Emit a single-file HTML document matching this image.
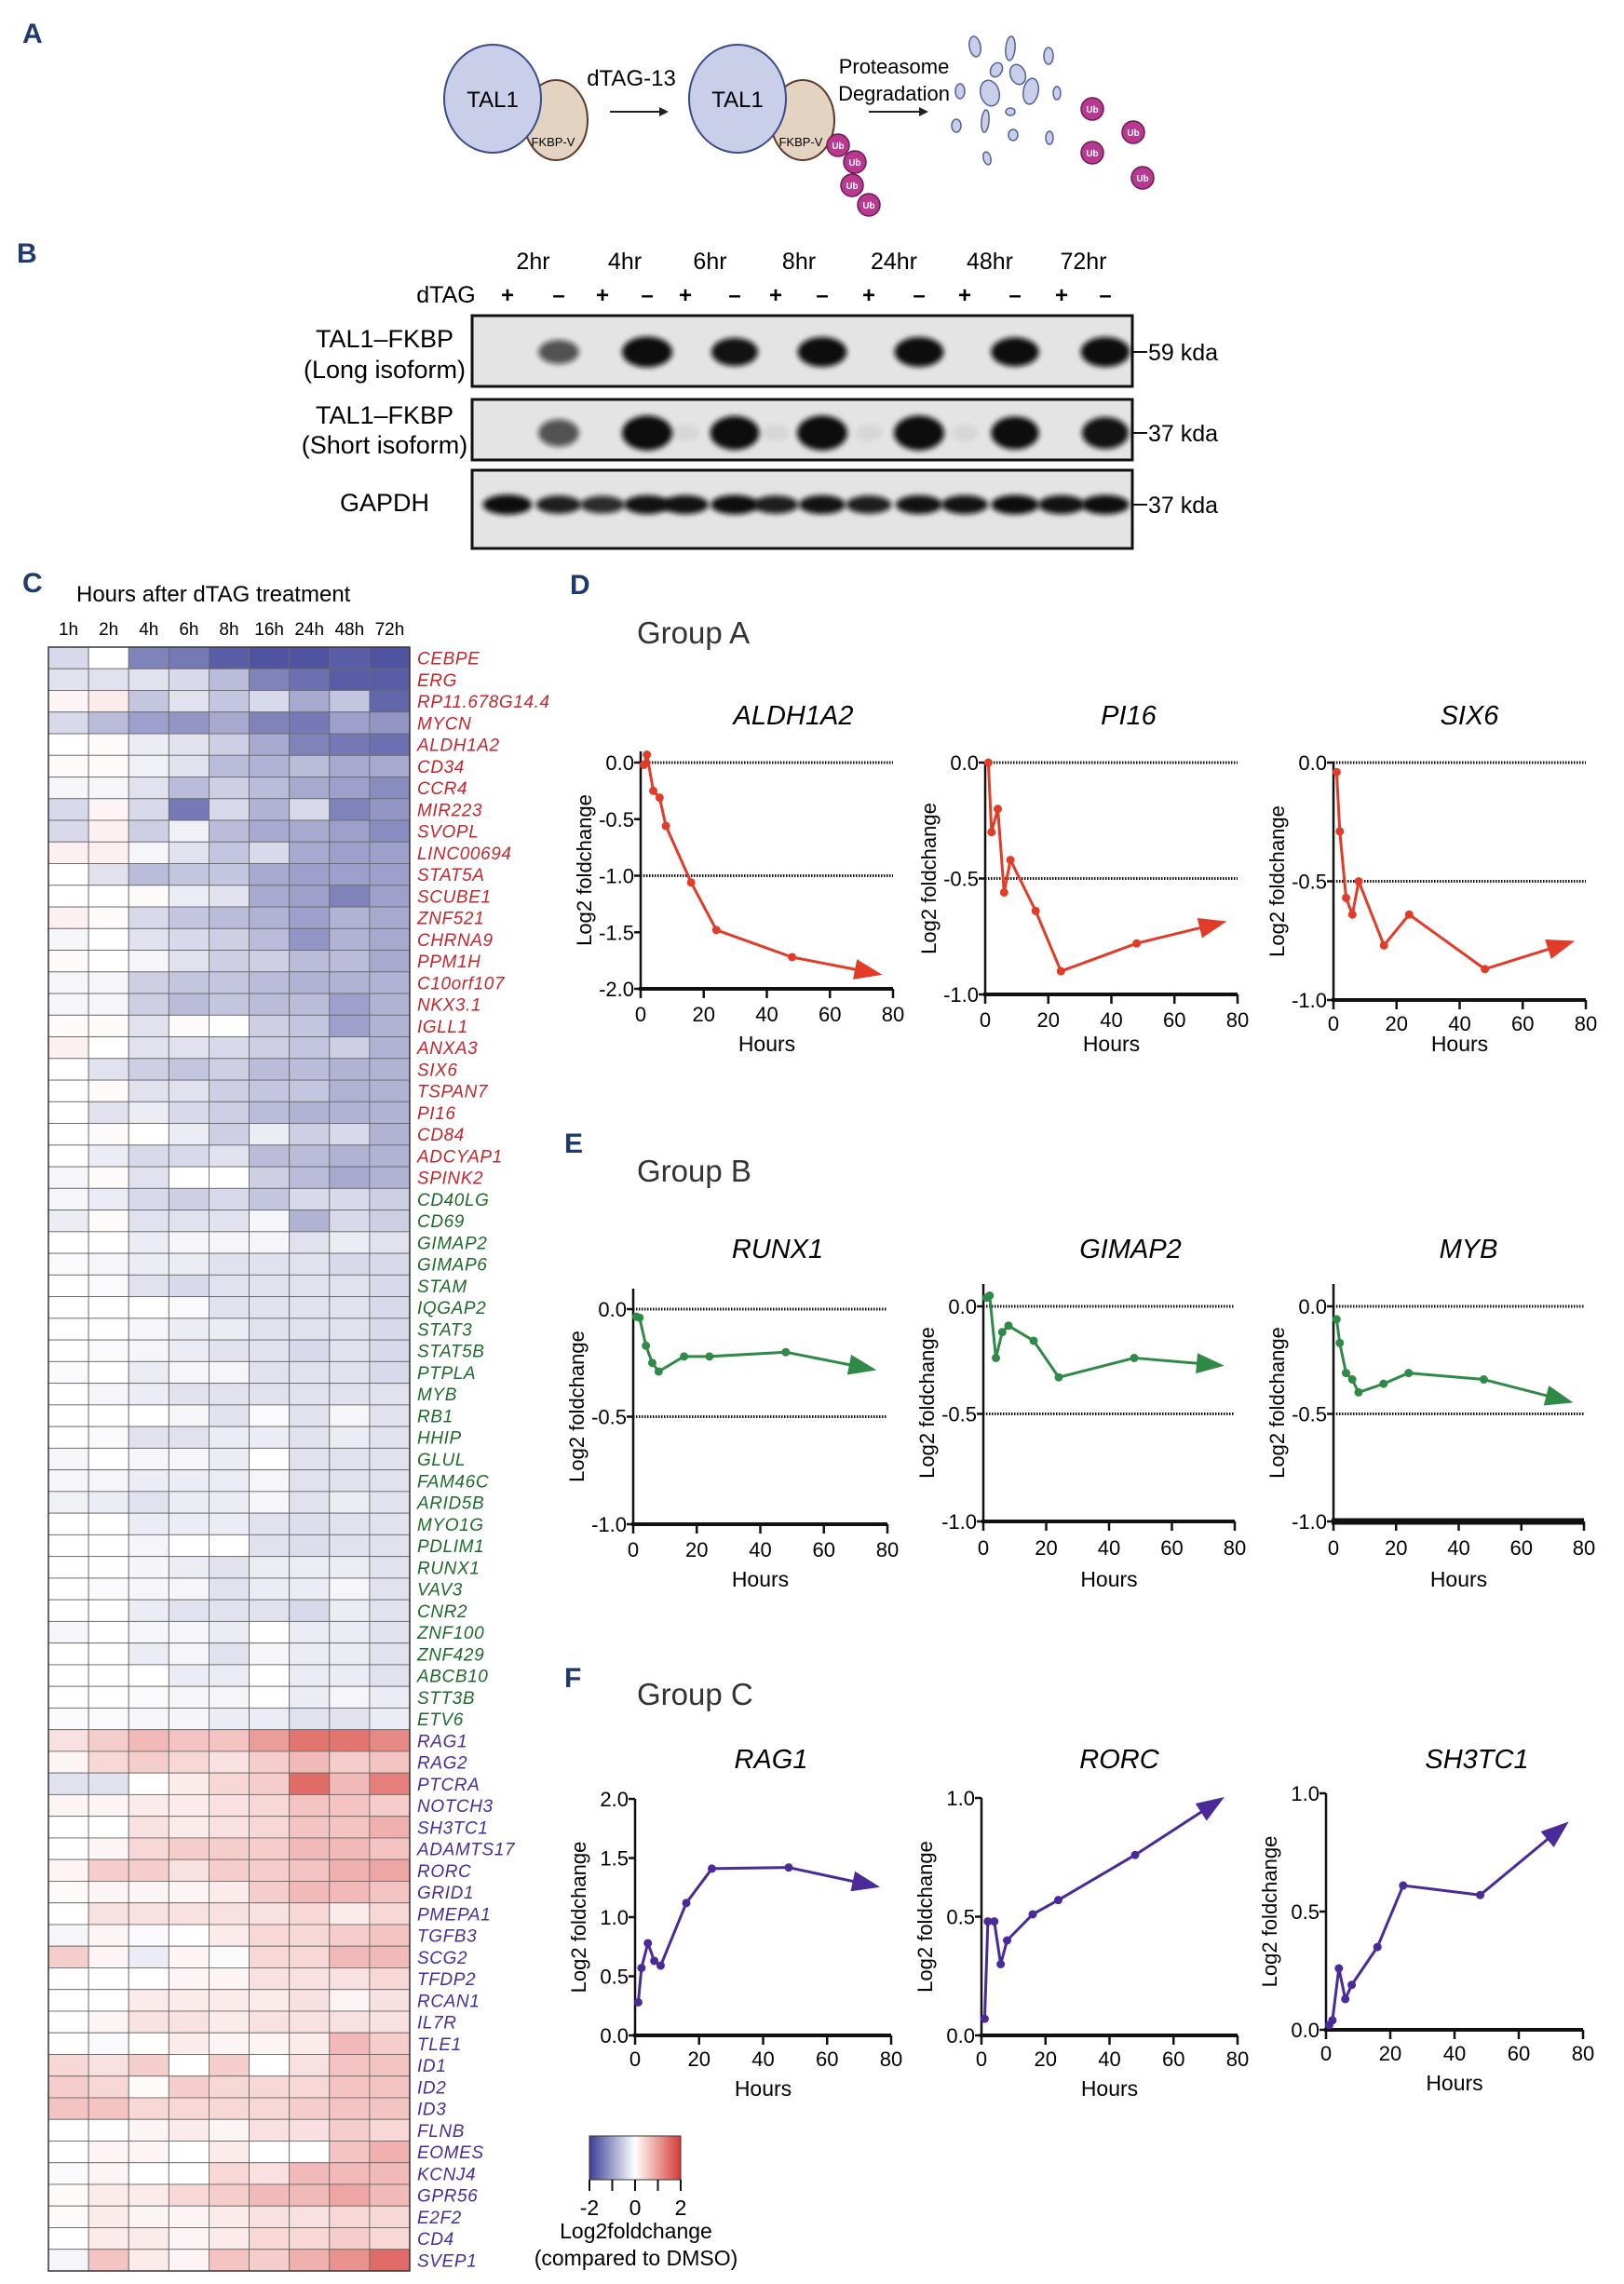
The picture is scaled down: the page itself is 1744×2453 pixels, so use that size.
<!DOCTYPE html>
<html><head><meta charset="utf-8">
<style>
html,body{margin:0;padding:0;background:#fff;}
svg{display:block;}
text{font-family:"Liberation Sans",sans-serif;}
.nar{font-family:"Liberation Sans Narrow","Liberation Sans",sans-serif;}
.plab{font-weight:bold;fill:#1f3a6e;font-size:30px;}
</style></head>
<body>
<svg id="fig" xmlns="http://www.w3.org/2000/svg" width="1744" height="2453" viewBox="0 0 1744 2453">
<defs>
<filter id="blur" x="-50%" y="-50%" width="200%" height="200%"><feGaussianBlur stdDeviation="3"/></filter>
</defs>
<g>
<text x="24" y="46" class="plab">A</text>
<ellipse cx="597" cy="129" rx="34" ry="43" fill="#e3d3c0" stroke="#5a3a2a" stroke-width="2"/>
<ellipse cx="529" cy="106" rx="52" ry="58" fill="#c9cfe8" stroke="#3a4a8a" stroke-width="2"/>
<text x="529" y="115" font-size="24" text-anchor="middle" class="nar">TAL1</text>
<text x="594" y="157" font-size="13" text-anchor="middle" class="nar">FKBP-V</text>
<text x="678" y="92" font-size="24" text-anchor="middle" class="nar">dTAG-13</text>
<line x1="655" y1="120" x2="712" y2="120" stroke="#222" stroke-width="2"/><polygon points="718,120 708,115 708,125" fill="#222"/>
<ellipse cx="862" cy="129" rx="34" ry="43" fill="#e3d3c0" stroke="#5a3a2a" stroke-width="2"/>
<ellipse cx="792" cy="106" rx="52" ry="58" fill="#c9cfe8" stroke="#3a4a8a" stroke-width="2"/>
<text x="792" y="115" font-size="24" text-anchor="middle" class="nar">TAL1</text>
<text x="860" y="157" font-size="13" text-anchor="middle" class="nar">FKBP-V</text>
<g id="ubs"></g>
<text x="960" y="79" font-size="22" text-anchor="middle" class="nar">Proteasome</text>
<text x="960" y="108" font-size="22" text-anchor="middle" class="nar">Degradation</text>
<line x1="933" y1="120" x2="990" y2="120" stroke="#222" stroke-width="2"/><polygon points="997,120 987,115 987,125" fill="#222"/>
<g id="frags"></g>
</g>
<g id="blotPanel">
<text x="18" y="282" class="plab">B</text>
</g>
<g id="heat">
<text x="24" y="636" class="plab">C</text>
<text x="82" y="646" font-size="24">Hours after dTAG treatment</text>
</g>
<g id="legend"></g>
<g id="lines">
<text x="612" y="638" class="plab">D</text>
<text x="684" y="691" font-size="33" class="nar" fill="#333">Group A</text>
<text x="606" y="1238" class="plab">E</text>
<text x="684" y="1269" font-size="33" class="nar" fill="#333">Group B</text>
<text x="606" y="1812" class="plab">F</text>
<text x="684" y="1831" font-size="33" class="nar" fill="#333">Group C</text>
</g>
</svg>
<script>
const hmCols = ['1h','2h','4h','6h','8h','16h','24h','48h','72h'];
const hmGenes = ['CEBPE','ERG','RP11.678G14.4','MYCN','ALDH1A2','CD34','CCR4','MIR223','SVOPL','LINC00694','STAT5A','SCUBE1','ZNF521','CHRNA9','PPM1H','C10orf107','NKX3.1','IGLL1','ANXA3','SIX6','TSPAN7','PI16','CD84','ADCYAP1','SPINK2',
'CD40LG','CD69','GIMAP2','GIMAP6','STAM','IQGAP2','STAT3','STAT5B','PTPLA','MYB','RB1','HHIP','GLUL','FAM46C','ARID5B','MYO1G','PDLIM1','RUNX1','VAV3','CNR2','ZNF100','ZNF429','ABCB10','STT3B','ETV6',
'RAG1','RAG2','PTCRA','NOTCH3','SH3TC1','ADAMTS17','RORC','GRID1','PMEPA1','TGFB3','SCG2','TFDP2','RCAN1','IL7R','TLE1','ID1','ID2','ID3','FLNB','EOMES','KCNJ4','GPR56','E2F2','CD4','SVEP1'];
const hmGroups = ['A','B','C'];
const hmGroupSizes = [25,25,25];
const hmValues = [
[-0.4,0,-1.3,-1.4,-1.7,-1.8,-1.8,-1.7,-1.8],
[-0.3,-0.3,-0.3,-0.4,-0.7,-1.3,-1.5,-1.7,-1.7],
[0.1,0.2,-0.6,-0.3,-0.6,-0.4,-0.9,-0.6,-1.6],
[-0.4,-0.7,-1.0,-1.1,-0.9,-1.3,-1.4,-1.0,-1.1],
[0,0.05,-0.2,-0.3,-0.5,-0.9,-1.3,-1.4,-1.5],
[0.05,0.05,-0.15,-0.3,-0.7,-0.8,-0.7,-0.9,-0.9],
[-0.1,-0.1,-0.3,-0.7,-0.5,-0.7,-0.9,-1.0,-1.2],
[-0.4,0.1,-0.4,-1.4,-0.4,-0.8,-0.4,-1.3,-1.1],
[-0.4,0.15,-0.5,-0.15,-0.7,-0.9,-0.9,-1.0,-1.2],
[0.15,0.15,-0.1,-0.3,-0.6,-0.4,-0.9,-1.0,-1.0],
[0,-0.3,-0.7,-0.6,-0.6,-0.9,-1.0,-1.0,-1.0],
[0,0,0.05,-0.2,-0.3,-0.9,-1.0,-1.3,-1.0],
[0.15,0.05,-0.4,-0.6,-0.7,-0.8,-1.0,-0.8,-0.9],
[-0.1,0,-0.3,-0.4,-0.5,-0.7,-1.1,-0.8,-0.9],
[0.05,0,-0.1,-0.3,-0.5,-0.5,-0.7,-0.7,-0.9],
[-0.1,-0.1,-0.5,-0.6,-0.6,-0.7,-0.8,-0.8,-0.8],
[-0.1,-0.1,-0.5,-0.7,-0.6,-0.7,-0.7,-1.0,-0.8],
[0.05,0.05,-0.3,0.05,0,-0.5,-0.6,-1.0,-0.8],
[0.15,0,-0.3,-0.3,-0.4,-0.5,-0.6,-0.5,-0.8],
[0,-0.3,-0.5,-0.6,-0.5,-0.7,-0.7,-0.8,-0.8],
[0,0.05,-0.3,-0.3,-0.5,-0.6,-0.6,-0.8,-0.8],
[0,-0.3,-0.2,-0.4,-0.5,-0.7,-0.8,-0.8,-0.8],
[0,0.05,0,-0.2,-0.5,-0.2,-0.5,-0.4,-0.8],
[0,-0.2,-0.4,-0.4,-0.3,-0.7,-0.7,-0.8,-0.8],
[-0.1,0.05,-0.3,0,0,-0.5,-0.7,-0.9,-0.8],
[-0.1,-0.2,-0.4,-0.5,-0.4,-0.6,-0.4,-0.4,-0.5],
[-0.2,0.05,-0.3,-0.3,-0.3,-0.1,-0.8,-0.4,-0.5],
[0,0,-0.2,-0.1,-0.1,-0.1,-0.3,-0.2,-0.3],
[-0.05,-0.1,-0.2,-0.2,-0.3,-0.3,-0.3,-0.4,-0.4],
[0,-0.05,-0.3,-0.4,-0.3,-0.3,-0.3,-0.3,-0.4],
[0,0,0,-0.05,-0.3,-0.3,-0.3,-0.3,-0.4],
[0,0,-0.1,-0.2,-0.2,-0.3,-0.3,-0.3,-0.4],
[0,-0.05,-0.1,-0.2,-0.3,-0.3,-0.4,-0.3,-0.4],
[-0.05,0,-0.2,-0.1,-0.1,-0.3,-0.3,-0.3,-0.4],
[0,-0.1,-0.2,-0.3,-0.3,-0.3,-0.3,-0.3,-0.3],
[0,0,0,-0.1,-0.3,-0.05,-0.3,-0.1,-0.3],
[0,-0.05,-0.3,-0.3,-0.2,-0.2,-0.3,-0.2,-0.3],
[-0.1,0,-0.1,-0.1,-0.2,0,-0.3,-0.3,-0.3],
[-0.1,-0.1,-0.2,-0.2,-0.2,-0.1,-0.3,-0.3,-0.3],
[-0.15,-0.2,-0.3,-0.2,-0.2,-0.1,-0.3,-0.2,-0.3],
[0,0,-0.2,-0.2,-0.2,-0.3,-0.35,-0.3,-0.3],
[0,0,-0.1,0,0,-0.3,-0.35,-0.3,-0.3],
[0,0,-0.1,-0.2,-0.3,-0.2,-0.2,-0.2,-0.3],
[0,-0.05,-0.1,-0.1,-0.3,-0.2,-0.2,-0.1,-0.3],
[0,0,-0.2,-0.3,-0.3,-0.3,-0.4,-0.2,-0.3],
[-0.1,0,-0.1,-0.1,-0.2,0,-0.2,-0.2,-0.3],
[0,0,-0.2,-0.1,-0.3,-0.1,-0.2,-0.2,-0.3],
[0,0,0,-0.2,-0.2,0,-0.2,-0.2,-0.3],
[0,0,-0.05,-0.1,-0.1,0,-0.2,-0.1,-0.2],
[-0.05,-0.05,-0.1,-0.1,-0.2,-0.2,-0.3,-0.3,-0.2],
[0.3,0.5,0.7,0.6,0.6,1.0,1.4,1.4,1.2],
[0.1,0.4,0.5,0.4,0.3,0.5,0.7,0.5,0.6],
[-0.3,-0.3,0,0.2,0.4,0.5,1.5,0.7,1.3],
[0.1,0.1,0.2,0.2,0.3,0.4,0.6,0.6,0.5],
[0,0,0.3,0.2,0.3,0.4,0.6,0.6,0.8],
[0,0.1,0.4,0.5,0.5,0.5,0.7,0.7,0.6],
[0.1,0.5,0.5,0.3,0.5,0.5,0.6,0.8,0.9],
[0.05,0.1,0.1,0.1,0.2,0.5,0.7,0.7,0.6],
[0,0.3,0.3,0.3,0.3,0.3,0.4,0.2,0.4],
[-0.1,0.1,-0.05,0,0.2,0.4,0.4,0.5,0.6],
[0.5,0.1,-0.2,0.1,-0.05,0.4,0.4,0.7,0.7],
[0,0,0,0.1,0.1,0.3,0.3,0.3,0.4],
[0,0,0.2,0.2,0.2,0.2,0.3,0.1,0.3],
[0,0.1,0.3,0.3,0.2,0.3,0.3,0.3,0.3],
[0,-0.05,0,0.2,0.1,0.1,0.2,0.7,0.5],
[0.4,0.3,0.5,0,0.5,0,0.3,0.6,0.6],
[0.5,0.4,0.05,0.5,0.4,0.4,0.4,0.6,0.6],
[0.6,0.6,0.4,0.4,0.4,0.4,0.5,0.6,0.6],
[0,0,0.1,0.2,0.1,0.3,0.3,0.5,0.4],
[0,0.1,0.1,0,0.2,0,0,0.6,0.8],
[-0.05,0.1,0,0,0.4,0.3,0.7,0.7,0.7],
[0.05,0.2,0.2,0.4,0.5,0.7,0.7,0.9,0.7],
[0.05,0.2,0.1,0.1,0.2,0.3,0.3,0.4,0.4],
[0,0.2,0.2,0.1,0.2,0.4,0.4,0.5,0.4],
[-0.1,0.6,0.2,0.1,0.6,0.5,0.8,1.1,1.5]
];
const legendTicks = [-2,0,2];

const hours = [1,2,4,6,8,16,24,48,72];
const aldh1a2 = [-0.02,0.07,-0.25,-0.31,-0.56,-1.06,-1.48,-1.72,-1.85];
const pi16 = [0.0,-0.30,-0.20,-0.56,-0.42,-0.64,-0.90,-0.78,-0.70];
const six6 = [-0.04,-0.29,-0.57,-0.64,-0.50,-0.77,-0.64,-0.87,-0.77];
const runx1 = [-0.035,-0.04,-0.17,-0.25,-0.29,-0.22,-0.22,-0.20,-0.27];
const gimap2 = [0.04,0.05,-0.24,-0.12,-0.09,-0.16,-0.33,-0.24,-0.27];
const myb = [-0.06,-0.17,-0.31,-0.34,-0.40,-0.36,-0.31,-0.34,-0.43];
const rag1 = [0.28,0.57,0.78,0.63,0.59,1.12,1.41,1.42,1.28];
const rorc = [0.07,0.48,0.48,0.30,0.40,0.51,0.57,0.76,0.97];
const sh3tc1 = [0.02,0.04,0.26,0.13,0.19,0.35,0.61,0.57,0.84];
const xTicks = [0,20,40,60,80];
const ticksA1 = [0,-0.5,-1,-1.5,-2];
const ticksHalf = [0,-0.5,-1];
const ticksC1 = [0,0.5,1,1.5,2];
const ticksC2 = [0,0.5,1];

const blotTimes = ['2hr','4hr','6hr','8hr','24hr','48hr','72hr'];
const dtagSigns = ['+','–','+','–','+','–','+','–','+','–','+','–','+','–'];
const longBand = [0,0.6,0,1.0,0,0.85,0,0.95,0,0.95,0,0.9,0,0.95];
const shortBand = [0,0.6,0,1.0,0.05,0.95,0.05,1.0,0.05,1.0,0.05,0.9,0,0.85];
const gapdhBand = [0.95,0.8,0.75,0.85,0.85,0.9,0.8,0.85,0.8,0.85,0.85,0.9,0.85,0.9];

const NS='http://www.w3.org/2000/svg';
function mk(tag, attrs, parent, txt){const e=document.createElementNS(NS,tag);for(const k in attrs)e.setAttribute(k,attrs[k]);if(txt!==undefined)e.textContent=txt;parent.appendChild(e);return e;}

(function(){
  const ub=document.getElementById('ubs');
  const pts=[[900,156],[918,174],[915,199],[933,220],[1173,117],[1217,142],[1173,164],[1227,191]];
  pts.forEach(p=>{
    const c=mk('circle',{cx:p[0],cy:p[1],r:12,fill:'#b8398f',stroke:'#6e1a55','stroke-width':1.5},ub);
    
    
    mk('text',{x:p[0],y:p[1]+4,'font-size':10,'text-anchor':'middle',fill:'#fff','font-weight':'bold'},ub,'Ub');
  });
  const fr=document.getElementById('frags');
  const fp=[[1047,50,6,11,-10],[1085,52,5,13,5],[1126,60,5,9,0],[1070,75,6,8,30],[1093,80,8,11,-20],[1031,98,5,8,0],[1063,100,10,14,-15],[1107,98,8,14,10],[1135,100,4,7,0],[1085,120,5,4,0],[1027,135,5,7,0],[1058,130,4,12,5],[1088,145,5,6,0],[1127,148,4,7,0],[1060,170,4,7,-15]];
  fp.forEach(f=>{
    const e=mk('ellipse',{cx:f[0],cy:f[1],rx:f[2],ry:f[3],transform:`rotate(${f[4]} ${f[0]} ${f[1]})`,fill:'#c9cfe8',stroke:'#55609a','stroke-width':1.5},fr);
    
    
  });
})();

(function(){
  const g=document.getElementById('blotPanel');
  const laneX=[545,600,647,695,736,789,833,883,933,987,1036,1090,1140,1187];
  blotTimes.forEach((t,i)=>{
    const x=(laneX[2*i]+laneX[2*i+1])/2;
    const e=mk('text',{x:x,y:289,'font-size':25,'text-anchor':'middle',class:'nar'},g,t);
    
    
  });
  mk('text',{x:479,y:325,'font-size':25,'text-anchor':'middle',class:'nar'},g,'dTAG');
  dtagSigns.forEach((s,i)=>{
    const e=mk('text',{x:laneX[i],y:325,'font-size':24,'text-anchor':'middle','font-weight':'bold'},g,s);
    
    
  });
  const blots=[{y0:339,y1:415,by:378,arr:longBand,h:30,lab1:'TAL1–FKBP',lab2:'(Long isoform)',ly:[373,406],kda:'59 kda',name:'blot-long-isoform'},
               {y0:429,y1:494,by:465,arr:shortBand,h:34,lab1:'TAL1–FKBP',lab2:'(Short isoform)',ly:[455,487],kda:'37 kda',name:'blot-short-isoform'},
               {y0:505,y1:589,by:542,arr:gapdhBand,h:20,lab1:'GAPDH',lab2:null,ly:[549],kda:'37 kda',name:'blot-gapdh'}];
  blots.forEach(b=>{
    const bg=mk('g',{},g);
    
    
    mk('rect',{x:507,y:b.y0,width:709,height:b.y1-b.y0,fill:'#e4e4e4',stroke:'#111','stroke-width':3},bg);
    b.arr.forEach((v,i)=>{
      if(v<=0)return;
      const band=mk('ellipse',{cx:laneX[i],cy:b.by,rx:14+v*13,ry:b.h/2*(0.5+v*0.6),fill:'#111','fill-opacity':Math.min(1,v*1.15),filter:'url(#blur)'},bg);
      
      
    });
    mk('text',{x:413,y:b.ly[0],'font-size':27,'text-anchor':'middle',class:'nar'},bg,b.lab1);
    if(b.lab2)mk('text',{x:413,y:b.ly[1],'font-size':27,'text-anchor':'middle',class:'nar'},bg,b.lab2);
    mk('line',{x1:1216,y1:b.by,x2:1232,y2:b.by,stroke:'#111','stroke-width':2},bg);
    mk('text',{x:1233,y:b.by+9,'font-size':25,class:'nar'},bg,b.kda);
  });
})();

function hmColor(v){
  const t=Math.min(Math.abs(v)/2,1);
  const end=v<0?[59,64,149]:[215,58,52];
  const c=end.map(e=>Math.round(255-(255-e)*t));
  return `rgb(${c[0]},${c[1]},${c[2]})`;
}
(function(){
  const g=document.getElementById('heat');
  const x0=52,x1=440,y0=695,y1=2439;
  const cw=(x1-x0)/hmCols.length, rh=(y1-y0)/hmGenes.length;
  const gcol={A:'#c1272d',B:'#1e6a2c',C:'#4a2c9a'};
  hmCols.forEach((c,j)=>{
    const t=mk('text',{x:x0+cw*(j+0.5),y:682,'font-size':19,'text-anchor':'middle'},g,c);
    
    
  });
  let gi=0,cnt=0;
  hmGenes.forEach((gene,i)=>{
    while(cnt>=hmGroupSizes[gi]){gi++;cnt=0;}
    cnt++;
    hmValues[i].forEach((v,j)=>{
      const r=mk('rect',{x:x0+cw*j,y:y0+rh*i,width:cw,height:rh,fill:hmColor(v),stroke:'#6a6a6a','stroke-width':0.9},g);
      
      
    });
    const t=mk('text',{x:448,y:y0+rh*(i+0.5)+7,'font-size':19,'font-style':'italic',fill:gcol[hmGroups[gi]],'letter-spacing':'0.6'},g,gene);
    
    
  });
  mk('rect',{x:x0,y:y0,width:x1-x0,height:y1-y0,fill:'none',stroke:'#333','stroke-width':1.5},g);

  const lg=document.getElementById('legend');
  const lx0=633,lx1=731,ly0=2294,ly1=2341;
  const N=40;
  for(let k=0;k<N;k++){
    const v=-2+4*(k+0.5)/N;
    mk('rect',{x:lx0+(lx1-lx0)*k/N,y:ly0,width:(lx1-lx0)/N+0.5,height:ly1-ly0,fill:hmColor(v)},lg);
  }
  mk('rect',{x:lx0,y:ly0,width:lx1-lx0,height:ly1-ly0,fill:'none',stroke:'#333','stroke-width':1},lg);
  const lsc=v=>lx0+(v+2)/4*(lx1-lx0);
  for(let v=-2;v<=2;v++){mk('line',{x1:lsc(v),y1:ly1,x2:lsc(v),y2:ly1+12,stroke:'#111','stroke-width':2},lg);}
  legendTicks.forEach(v=>{
    const t=mk('text',{x:lsc(v),y:2379,'font-size':23,'text-anchor':'middle',class:'nar'},lg,String(v));
    
    
  });
  mk('text',{x:683,y:2404,'font-size':23,'text-anchor':'middle',class:'nar'},lg,'Log2foldchange');
  mk('text',{x:683,y:2433,'font-size':23,'text-anchor':'middle',class:'nar'},lg,'(compared to DMSO)');
})();

function fmt(v){return v.toFixed(1);}
function lineChart(o){
  const g=mk('g',{},document.getElementById('lines'));
  
  
  const X=h=>o.ax+(h/80)*(o.axr-o.ax);
  const Y=v=>o.yTop+(o.vTop-v)/(o.vTop-o.vBot)*(o.yBot-o.yTop);
  const t=mk('text',{x:o.tx,y:o.ty,'font-size':29,'font-style':'italic','text-anchor':'middle',class:'nar'},g,o.name);
  
  
  o.refs.forEach(r=>{mk('line',{x1:o.ax,y1:Y(r),x2:o.axr,y2:Y(r),stroke:'#111','stroke-width':3,'stroke-dasharray':'1.5 1.5'},g);});
  const top=Math.min(Y(o.ticks[0]),Y(o.ticks[o.ticks.length-1]))-(o.extraTop||0);
  mk('line',{x1:o.ax,y1:top,x2:o.ax,y2:o.yBot,stroke:'#111','stroke-width':2.5},g);
  mk('line',{x1:o.ax-2,y1:o.yBot,x2:o.axr,y2:o.yBot,stroke:'#111','stroke-width':o.thick||4},g);
  o.ticks.forEach(v=>{
    mk('line',{x1:o.ax-7,y1:Y(v),x2:o.ax,y2:Y(v),stroke:'#111','stroke-width':2.5},g);
    const tl=mk('text',{x:o.ax-7,y:Y(v)+8,'font-size':22,'text-anchor':'end',class:'nar'},g,fmt(v));
    
    
  });
  xTicks.forEach(h=>{
    mk('line',{x1:X(h),y1:o.yBot,x2:X(h),y2:o.yBot+10,stroke:'#111','stroke-width':2.5},g);
    const tl=mk('text',{x:X(h),y:o.xly,'font-size':22,'text-anchor':'middle',class:'nar'},g,String(h));
    
    
  });
  mk('text',{x:(o.ax+o.axr)/2,y:o.hy,'font-size':23,'text-anchor':'middle',class:'nar'},g,'Hours');
  const yl=mk('text',{x:0,y:0,'font-size':22,'text-anchor':'middle',transform:`translate(${o.ax-53},${(top+o.yBot)/2}) rotate(-90)`},g,'Log2 foldchange');
  
  
  const pts=hours.map((h,i)=>[X(h),Y(o.vals[i])]);
  const p=mk('polyline',{points:pts.map(q=>q.join(',')).join(' '),fill:'none',stroke:o.color,'stroke-width':3,'stroke-linejoin':'round'},g);
  
  
  pts.slice(0,-1).forEach(q=>{
    const c=mk('circle',{cx:q[0],cy:q[1],r:4.5,fill:o.color},g);
    
    
  });
  const a=pts[pts.length-2],b=pts[pts.length-1];
  const dx=b[0]-a[0],dy=b[1]-a[1],L=Math.hypot(dx,dy),ux=dx/L,uy=dy/L;
  const tip=[b[0]+ux*16,b[1]+uy*16],base=[b[0]-ux*14,b[1]-uy*14];
  const ah=mk('polygon',{points:`${tip[0]},${tip[1]} ${base[0]-uy*11},${base[1]+ux*11} ${base[0]+uy*11},${base[1]-ux*11}`,fill:o.color},g);
  
  
}
const RED='#e23b28',GREEN='#2f8a48',PURP='#4a2a98';
lineChart({name:'ALDH1A2',vals:aldh1a2,color:RED,ax:688,axr:959,yTop:819,yBot:1062,vTop:0,vBot:-2,ticks:ticksA1,refs:[0,-1],tx:852,ty:778,xly:1097,hy:1129,extraTop:12});
lineChart({name:'PI16',vals:pi16,color:RED,ax:1058,axr:1329,yTop:819,yBot:1068,vTop:0,vBot:-1,ticks:ticksHalf,refs:[0,-0.5],tx:1212,ty:778,xly:1103,hy:1129});
lineChart({name:'SIX6',vals:six6,color:RED,ax:1432,axr:1703,yTop:819,yBot:1074,vTop:0,vBot:-1,ticks:ticksHalf,refs:[0,-0.5],tx:1578,ty:778,xly:1107,hy:1129});
lineChart({name:'RUNX1',vals:runx1,color:GREEN,ax:680,axr:953,yTop:1406,yBot:1637,vTop:0,vBot:-1,ticks:ticksHalf,refs:[0,-0.5],tx:835,ty:1351,xly:1672,hy:1704,extraTop:22});
lineChart({name:'GIMAP2',vals:gimap2,color:GREEN,ax:1056,axr:1326,yTop:1403,yBot:1634,vTop:0,vBot:-1,ticks:ticksHalf,refs:[0,-0.5],tx:1214,ty:1351,xly:1670,hy:1704,extraTop:24});
lineChart({name:'MYB',vals:myb,color:GREEN,ax:1432,axr:1701,yTop:1403,yBot:1634,vTop:0,vBot:-1,ticks:ticksHalf,refs:[0,-0.5],tx:1577,ty:1351,xly:1670,hy:1704,extraTop:24,thick:7});
lineChart({name:'RAG1',vals:rag1,color:PURP,ax:682,axr:957,yTop:1932,yBot:2186,vTop:2,vBot:0,ticks:ticksC1,refs:[],tx:828,ty:1899,xly:2219,hy:2251});
lineChart({name:'RORC',vals:rorc,color:PURP,ax:1054,axr:1329,yTop:1931,yBot:2186,vTop:1,vBot:0,ticks:ticksC2,refs:[],tx:1202,ty:1899,xly:2219,hy:2251});
lineChart({name:'SH3TC1',vals:sh3tc1,color:PURP,ax:1424,axr:1700,yTop:1926,yBot:2180,vTop:1,vBot:0,ticks:ticksC2,refs:[],tx:1586,ty:1899,xly:2213,hy:2245});
</script>
</body></html>
